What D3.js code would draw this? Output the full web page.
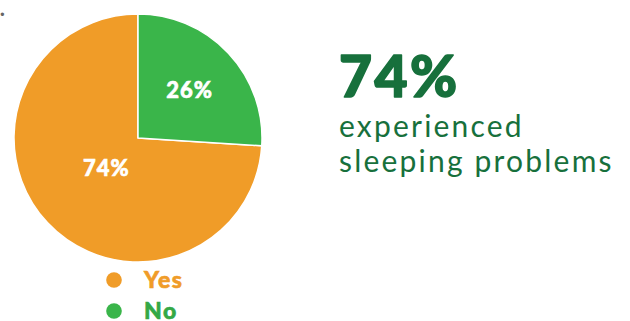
<!DOCTYPE html>
<html>
<head>
<meta charset="utf-8">
<script src="https://cdn.jsdelivr.net/npm/d3@7"></script>
<style>
  html, body { margin: 0; padding: 0; background: #fff; }
  svg { display: block; }
</style>
</head>
<body>
<svg id="chart" width="630" height="321"></svg>
<script>
// Survey answers: did the respondent experience sleeping problems?
const categories = ["Yes", "No"];
const values = [74, 26];
const colors = ["#f09c28", "#3ab54a"];
const legendTextColors = ["#f09c28", "#34a845"];
const headline = "74%";
const captionLines = ["experienced", "sleeping problems"];

const svg = d3.select("#chart");
const cx = 138, cy = 138, R = 124;
const font = "Lato, 'Open Sans', sans-serif";

// clipped section number in the corner
svg.append("text")
  .attr("x", -13).attr("y", 16)
  .attr("font-family", font).attr("font-size", 22).attr("font-weight", 700)
  .attr("fill", "#666")
  .text("2.");

const total = d3.sum(values);
// Start the "Yes" slice where "No" ends so "No" sits at 12 o'clock going clockwise
const offset = 2 * Math.PI * (values[1] / total);
const pie = d3.pie().sort(null).value(d => d.value)
  .startAngle(offset).endAngle(offset + 2 * Math.PI);
const data = categories.map((c, i) => ({ name: c, value: values[i], color: colors[i] }));
const arcs = pie(data);

const arc = d3.arc().innerRadius(0).outerRadius(R);
const g = svg.append("g").attr("transform", `translate(${cx},${cy})`);

g.selectAll("path.slice").data(arcs).join("path")
  .attr("class", "slice")
  .attr("d", arc)
  .attr("fill", d => d.data.color)
  .attr("stroke", "#fff")
  .attr("stroke-width", 1.5)
  .attr("stroke-linejoin", "round");

// labels: the small slice gets its label further out than the big one
const labelRadius = d => (d.endAngle - d.startAngle) < Math.PI ? R * 0.57 : R * 0.35;
g.selectAll("text.pct").data(arcs).join("text")
  .attr("class", "pct")
  .attr("transform", d => {
    const a = (d.startAngle + d.endAngle) / 2;
    const r = labelRadius(d);
    return `translate(${Math.sin(a) * r},${-Math.cos(a) * r})`;
  })
  .attr("text-anchor", "middle")
  .attr("dy", "0.36em")
  .attr("font-family", font)
  .attr("font-weight", 900)
  .attr("font-size", 22)
  .attr("letter-spacing", 1)
  .attr("fill", "#fff")
  .attr("stroke", "#fff")
  .attr("stroke-width", 0.6)
  .text(d => Math.round(d.data.value / total * 100) + "%");

// legend
const legend = svg.append("g").attr("transform", "translate(114,280)");
const item = legend.selectAll("g").data(categories).join("g")
  .attr("transform", (d, i) => `translate(0,${i * 31})`);
item.append("circle").attr("r", 7.8).attr("fill", (d, i) => colors[i]);
item.append("text")
  .attr("x", 30).attr("dy", "0.36em")
  .attr("font-family", font).attr("font-weight", 900).attr("font-size", 23)
  .attr("letter-spacing", 1.5)
  .attr("fill", (d, i) => legendTextColors[i])
  .attr("stroke", (d, i) => legendTextColors[i])
  .attr("stroke-width", 0.6)
  .text(d => d);

// headline figure and caption
const green = "#17703c";
svg.append("text")
  .attr("x", 339).attr("y", 97)
  .attr("font-family", font).attr("font-weight", 900).attr("font-size", 57)
  .attr("letter-spacing", 2.5)
  .attr("fill", green)
  .attr("stroke", green)
  .attr("stroke-width", 1.6)
  .attr("stroke-linejoin", "round")
  .text(headline);

svg.selectAll("text.caption").data(captionLines).join("text")
  .attr("class", "caption")
  .attr("x", 339).attr("y", (d, i) => 137 + i * 35)
  .attr("font-family", font).attr("font-weight", 400).attr("font-size", 30)
  .attr("letter-spacing", 2.2)
  .attr("fill", green)
  .text(d => d);
</script>
</body>
</html>
